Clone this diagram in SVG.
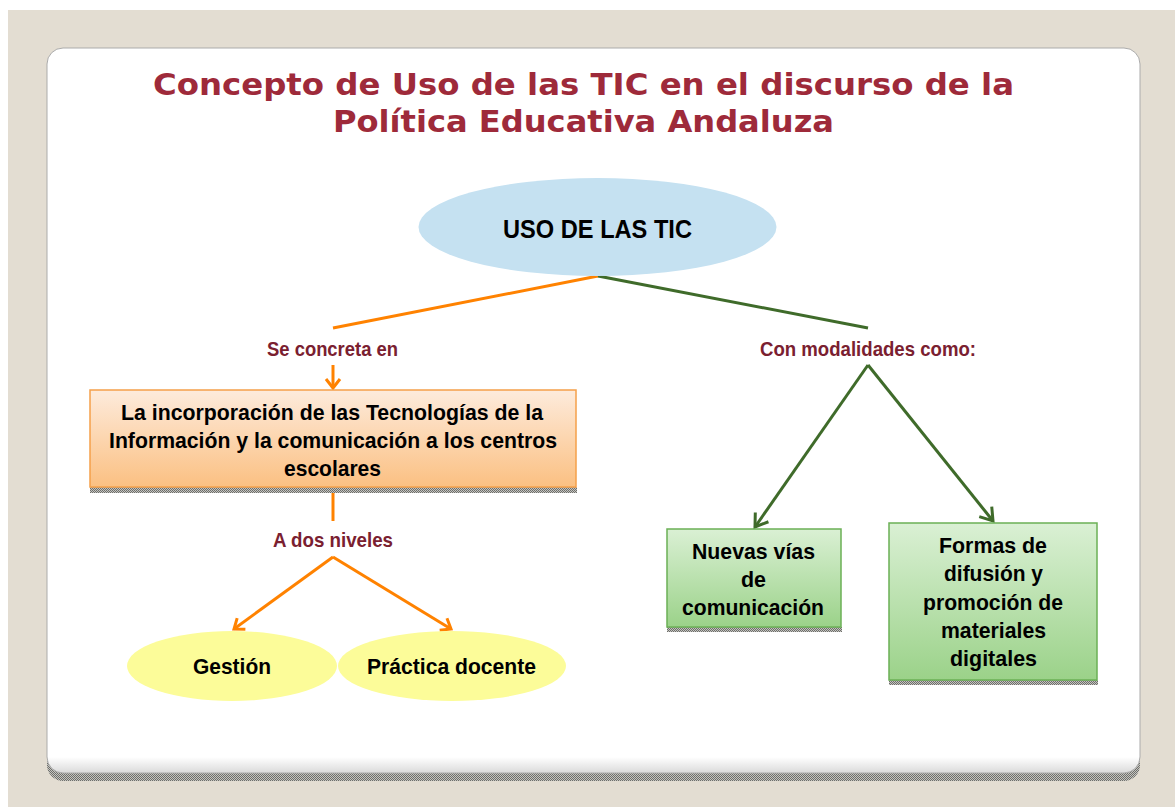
<svg xmlns="http://www.w3.org/2000/svg" width="1175" height="807" viewBox="0 0 1175 807">
<style>
.title{font-family:"DejaVu Sans","Verdana",sans-serif;font-weight:bold;font-size:31px;fill:#9E2A3A;text-anchor:middle}
.lbl{font-family:"Liberation Sans Narrow","Liberation Sans",Arial,sans-serif;font-weight:bold;font-size:21px;fill:#7A2030;text-anchor:middle}
.node{font-family:"Liberation Sans",Arial,sans-serif;font-weight:bold;font-size:22.5px;fill:#000;text-anchor:middle}
.or{stroke:#FF8200;stroke-width:3;fill:none}
.gr{stroke:#3F6B2A;stroke-width:3;fill:none}
</style>
<defs>
<pattern id="chk" width="2" height="2" patternUnits="userSpaceOnUse">
<rect width="2" height="2" fill="#c4c4c0"/>
<rect width="1" height="1" fill="#6e6e6a"/>
<rect x="1" y="1" width="1" height="1" fill="#6e6e6a"/>
</pattern>
<linearGradient id="panelG" x1="0" y1="0" x2="0" y2="1">
<stop offset="0" stop-color="#fff"/>
<stop offset="0.978" stop-color="#fff"/>
<stop offset="1" stop-color="#dadada"/>
</linearGradient>
<linearGradient id="orG" x1="0" y1="0" x2="0" y2="1">
<stop offset="0" stop-color="#FDEBDC"/>
<stop offset="1" stop-color="#FBC082"/>
</linearGradient>
<linearGradient id="grG" x1="0" y1="0" x2="0" y2="1">
<stop offset="0" stop-color="#DAF0D4"/>
<stop offset="1" stop-color="#9BD289"/>
</linearGradient>
<marker id="arO" markerUnits="userSpaceOnUse" markerWidth="30" markerHeight="30" viewBox="-15 -15 30 30" refX="0" refY="0" orient="auto">
<path d="M-9,-7 L0,0 L-9,7" fill="none" stroke="#FF8200" stroke-width="3"/>
</marker>
<marker id="arG" markerUnits="userSpaceOnUse" markerWidth="30" markerHeight="30" viewBox="-15 -15 30 30" refX="0" refY="0" orient="auto">
<path d="M-12,-8 L0,0 L-12,8" fill="none" stroke="#3F6B2A" stroke-width="3"/>
</marker>
</defs>

<rect width="1175" height="807" fill="#fff"/>
<rect x="8" y="10" width="1167" height="797" fill="#E3DDD2"/>

<g id="panel">
<rect x="47" y="56" width="1093" height="725" rx="16" fill="url(#chk)"/>
<rect x="47" y="48" width="1093" height="725" rx="16" fill="url(#panelG)" stroke="#ABABAB" stroke-width="1"/>
</g>

<g id="title">
<text class="title" x="583.5" y="95" textLength="861" lengthAdjust="spacingAndGlyphs">Concepto de Uso de las TIC en el discurso de la</text>
<text class="title" x="583.5" y="132" textLength="501" lengthAdjust="spacingAndGlyphs">Política Educativa Andaluza</text>
</g>

<g id="connectors">
<path class="or" d="M598,276 L333,328"/>
<path class="gr" d="M598,276 L868,328"/>
<path class="or" d="M333,365 L333,388" marker-end="url(#arO)"/>
<path class="gr" d="M868,365 L755,527" marker-end="url(#arG)"/>
<path class="gr" d="M868,365 L993,521" marker-end="url(#arG)"/>
<path class="or" d="M333,487 L333,521"/>
<path class="or" d="M333,557 L234,629" marker-end="url(#arO)"/>
<path class="or" d="M333,557 L451,629" marker-end="url(#arO)"/>
<text class="lbl" x="332.5" y="355.5" textLength="131" lengthAdjust="spacingAndGlyphs">Se concreta en</text>
<text class="lbl" x="868" y="355.5" textLength="216" lengthAdjust="spacingAndGlyphs">Con modalidades como:</text>
<text class="lbl" x="333" y="547" textLength="120" lengthAdjust="spacingAndGlyphs">A dos niveles</text>
</g>

<g id="uso">
<ellipse cx="597.5" cy="227" rx="179" ry="49" fill="#C5E1F1"/>
<text class="node" style="font-size:26px" x="597.5" y="238" textLength="189" lengthAdjust="spacingAndGlyphs">USO DE LAS TIC</text>
</g>

<g id="incorporacion">
<rect x="90" y="487" width="487" height="6" fill="url(#chk)"/>
<rect x="90" y="390" width="486" height="97" fill="url(#orG)" stroke="#F5A04A" stroke-width="1.5"/>
<text class="node" x="332" y="420" textLength="422" lengthAdjust="spacingAndGlyphs">La incorporación de las Tecnologías de la</text>
<text class="node" x="333" y="448" textLength="448" lengthAdjust="spacingAndGlyphs">Información y la comunicación a los centros</text>
<text class="node" x="332.5" y="476" textLength="97" lengthAdjust="spacingAndGlyphs">escolares</text>
</g>

<g id="gestion">
<ellipse cx="232" cy="666" rx="105" ry="35" fill="#FCFC99"/>
<text class="node" x="232" y="674" textLength="78" lengthAdjust="spacingAndGlyphs">Gestión</text>
</g>

<g id="practica">
<ellipse cx="452" cy="666" rx="114" ry="35" fill="#FCFC99"/>
<text class="node" x="451.5" y="674" textLength="169" lengthAdjust="spacingAndGlyphs">Práctica docente</text>
</g>

<g id="nuevas">
<rect x="667" y="627" width="175" height="5" fill="url(#chk)"/>
<rect x="667" y="529" width="174" height="98" fill="url(#grG)" stroke="#6BB056" stroke-width="1.5"/>
<text class="node" x="753.5" y="559" textLength="123" lengthAdjust="spacingAndGlyphs">Nuevas vías</text>
<text class="node" x="753.5" y="587" textLength="25" lengthAdjust="spacingAndGlyphs">de</text>
<text class="node" x="753" y="615" textLength="142" lengthAdjust="spacingAndGlyphs">comunicación</text>
</g>

<g id="formas">
<rect x="889" y="680" width="209" height="5" fill="url(#chk)"/>
<rect x="889" y="523" width="208" height="157" fill="url(#grG)" stroke="#6BB056" stroke-width="1.5"/>
<text class="node" x="993" y="553" textLength="108" lengthAdjust="spacingAndGlyphs">Formas de</text>
<text class="node" x="993.5" y="581" textLength="99" lengthAdjust="spacingAndGlyphs">difusión y</text>
<text class="node" x="993" y="610" textLength="140" lengthAdjust="spacingAndGlyphs">promoción de</text>
<text class="node" x="993.5" y="638" textLength="105" lengthAdjust="spacingAndGlyphs">materiales</text>
<text class="node" x="993.5" y="666" textLength="87" lengthAdjust="spacingAndGlyphs">digitales</text>
</g>
</svg>
